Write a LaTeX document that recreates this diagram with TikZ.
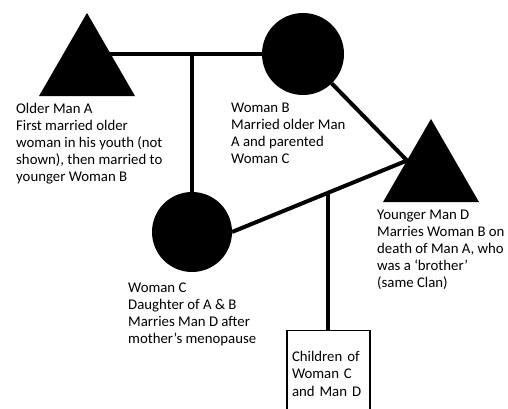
\documentclass[tikz,border=0pt]{standalone}
\usepackage{fontspec}
\setmainfont{Carlito}
\usetikzlibrary{shapes.geometric,calc}
\tikzset{
    man/.style={
        regular polygon, regular polygon sides=3, fill=black,
        inner sep=0pt, outer sep=0pt, minimum size=110.9pt
    },
    woman/.style={circle, fill=black, inner sep=0pt, outer sep=0pt},
    tie/.style={line width=4pt},
    note/.style={
        anchor=north west, align=left, inner sep=0pt,
        font=\fontsize{14.8}{17}\selectfont
    },
    kids box/.style={
        draw, line width=1.2pt, anchor=north, align=left,
        text width=73pt, inner xsep=5pt, minimum height=86pt,
        font=\fontsize{14.8}{17.5}\selectfont
    }
}
\begin{document}
\begin{tikzpicture}[x=1pt,y=-1pt]
\useasboundingbox (0,0) rectangle (508,409);
\clip (0,0) rectangle (508,409);
% family
\node[man] (A) at (87,68.4) {};
\node[woman, minimum size=82pt] (B) at (303,54) {};
\node[woman, minimum size=80pt] (C) at (192,232) {};
\node[man] (D) at (431,174.4) {};
\node[kids box] (kids) at (328.5,330) {Children of\\Woman C\\and Man D};
\coordinate (cd) at ($(C.east)!0.551!(D.side 1)$);
\draw[tie] (B) -- (B -| A);
\draw[tie] (C) -- (C |- B);
\draw[tie] (B) -- (D.side 1);
\draw[tie] (C.east) -- (D.side 1);
\draw[tie] (cd) -- (cd |- kids.north);
% labels
\node[note] (noteA) at (16,103) {Older Man A\\First married older\\woman in his youth (not\\shown), then married to\\younger Woman B};
\node[note] (noteB) at (231,103) {Woman B\\Married older Man\\A and parented\\Woman C};
\node[note] (noteD) at (377,210) {Younger Man D\\Marries Woman B on\\death of Man A, who\\was a ‘brother’\\(same Clan)};
\node[note] (noteC) at (128,283) {Woman C\\Daughter of A \& B\\Marries Man D after\\mother’s menopause};
\end{tikzpicture}
\end{document}
